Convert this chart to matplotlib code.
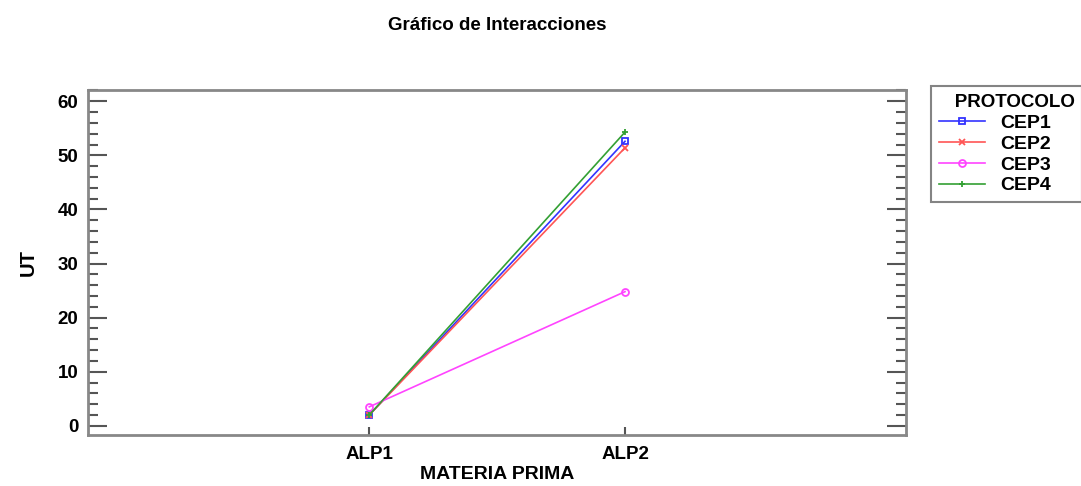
import matplotlib
matplotlib.use("Agg")
import matplotlib.pyplot as plt
from matplotlib.ticker import MultipleLocator

plt.rcParams['font.family'] = ['Liberation Sans', 'DejaVu Sans']
plt.rcParams['font.weight'] = 'bold'

materia_prima = ["ALP1", "ALP2"]
protocolos = ["CEP1", "CEP2", "CEP3", "CEP4"]
ut_cep1 = [2.0, 52.6]
ut_cep2 = [2.0, 51.4]
ut_cep3 = [3.5, 24.8]
ut_cep4 = [2.0, 54.3]
series = [ut_cep1, ut_cep2, ut_cep3, ut_cep4]
colores = ["#3333ff", "#ff5555", "#ff44ff", "#33a033"]
marcadores = ["s", "x", "o", "+"]

fig = plt.figure(figsize=(10.81, 4.86), dpi=100)
ax = fig.add_axes([0.0814, 0.105, 0.757, 0.71])

x = [1, 2]
for nombre, vals, c, m in zip(protocolos, series, colores, marcadores):
    ax.plot(x, vals, color=c, lw=1.2, marker=m, markersize=5,
            markerfacecolor='none' if m in ("s", "o") else c,
            markeredgewidth=1.3, label=nombre)

ax.set_xlim(-0.1, 3.1)
ax.set_ylim(-1.7, 62.1)
ax.set_xticks(x)
ax.set_xticklabels(materia_prima)
ax.yaxis.set_major_locator(MultipleLocator(10))
ax.yaxis.set_minor_locator(MultipleLocator(2))
ax.tick_params(axis='y', which='major', direction='in', length=14, width=1.5,
               color='#555555', right=True, labelsize=13.5, pad=7)
ax.tick_params(axis='y', which='minor', direction='in', length=7, width=1.5,
               color='#555555', right=True)
ax.tick_params(axis='x', which='major', direction='in', length=6, width=1.5,
               color='#555555', labelsize=13.5, pad=8)
for s in ax.spines.values():
    s.set_color('#888888')
    s.set_linewidth(2)

ax.set_xlabel("MATERIA PRIMA", fontsize=14, fontweight='bold', labelpad=2)
ax.set_ylabel("UT", fontsize=14.5, fontweight='bold', labelpad=14)
fig.suptitle("Gráfico de Interacciones", x=0.46, y=0.965, fontsize=13.5,
             fontweight='bold')

leg = fig.legend(loc='upper left', bbox_to_anchor=(0.861, 0.823),
                 title="   PROTOCOLO", fontsize=14, title_fontsize=13.5,
                 frameon=True, fancybox=False, borderpad=0.4,
                 labelspacing=0.17, handlelength=2.4, handletextpad=0.75,
                 borderaxespad=0, alignment='left')
leg.get_title().set_fontweight('bold')
leg.get_frame().set_edgecolor('#666666')
leg.get_frame().set_linewidth(1.5)

fig.savefig("out.png", dpi=100)
